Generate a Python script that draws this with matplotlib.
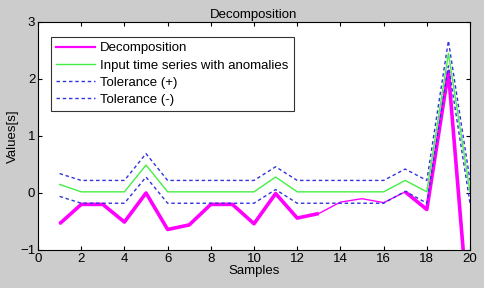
import numpy as np
import matplotlib
matplotlib.use("Agg")
import matplotlib.pyplot as plt
from matplotlib.lines import Line2D

#------------ DATA ------------
samples = list(range(1, 21))
decomposition = [-0.54, -0.20, -0.20, -0.51, 0.00, -0.64, -0.56, -0.20, -0.20, -0.54,
                 -0.01, -0.44, -0.36, -0.16, -0.10, -0.17, 0.02, -0.29, 2.13, -2.45]
input_series = [0.15, 0.02, 0.02, 0.02, 0.49, 0.02, 0.02, 0.02, 0.02, 0.02,
                0.28, 0.02, 0.02, 0.02, 0.02, 0.02, 0.22, 0.02, 2.45, 0.02]
tol_plus = [0.34, 0.22, 0.22, 0.22, 0.69, 0.22, 0.22, 0.22, 0.22, 0.22,
            0.46, 0.22, 0.22, 0.22, 0.22, 0.22, 0.42, 0.22, 2.67, 0.22]
tol_minus = [-0.06, -0.18, -0.18, -0.18, 0.28, -0.18, -0.18, -0.18, -0.18, -0.18,
             0.06, -0.18, -0.18, -0.18, -0.18, -0.18, 0.03, -0.18, 2.23, -0.18]
# samples where the decomposition is drawn thin only
thin_samples = [14, 15, 16]

plt.rcParams['font.family'] = ['Liberation Sans', 'DejaVu Sans']
FS = 9.5

fig = plt.figure(figsize=(4.85, 2.88), dpi=100, facecolor='#cccccc')
ax = fig.add_axes([0.0784, 0.132, 0.8907, 0.7917])
ax.set_facecolor('white')

thick = np.array(decomposition, dtype=float)
for s in thin_samples:
    thick[s - 1] = np.nan

dash = (0, (2.5, 2))
ax.plot(samples, decomposition, color='#ff00ff', lw=1.0)
ax.plot(samples, thick, color='#ff00ff', lw=2.6, solid_capstyle='butt')
ax.plot(samples, input_series, color='#44ee44', lw=1.0)
ax.plot(samples, tol_plus, color='#3333dd', lw=1.0, ls=dash)
ax.plot(samples, tol_minus, color='#3333dd', lw=1.0, ls=dash)

handles = [Line2D([], [], color='#ff00ff', lw=1.6),
           Line2D([], [], color='#44ee44', lw=1.0),
           Line2D([], [], color='#3333dd', lw=1.0, ls=dash),
           Line2D([], [], color='#3333dd', lw=1.0, ls=dash)]
labels = ['Decomposition', 'Input time series with anomalies',
          'Tolerance (+)', 'Tolerance (-)']
leg = ax.legend(handles, labels, loc='upper left', bbox_to_anchor=(0.029, 0.935),
                fontsize=FS, frameon=True, fancybox=False, borderpad=0.4,
                labelspacing=0.38, handlelength=3.0, handletextpad=0.35,
                borderaxespad=0)
leg.get_frame().set_edgecolor('black')
leg.get_frame().set_linewidth(0.8)

ax.set_xlim(0, 20)
ax.set_ylim(-1, 3)
ax.set_xticks(range(0, 21, 2))
ax.set_yticks([-1, 0, 1, 2, 3])
ax.tick_params(direction='in', top=True, right=True, length=3, labelsize=FS, pad=2)
for sp in ax.spines.values():
    sp.set_linewidth(0.8)

ax.set_title('Decomposition', fontsize=FS, pad=3)
ax.set_xlabel('Samples', fontsize=FS, labelpad=0)
ax.set_ylabel('Values[s]', fontsize=FS, labelpad=1)

fig.savefig('out.png', dpi=100, facecolor=fig.get_facecolor())
